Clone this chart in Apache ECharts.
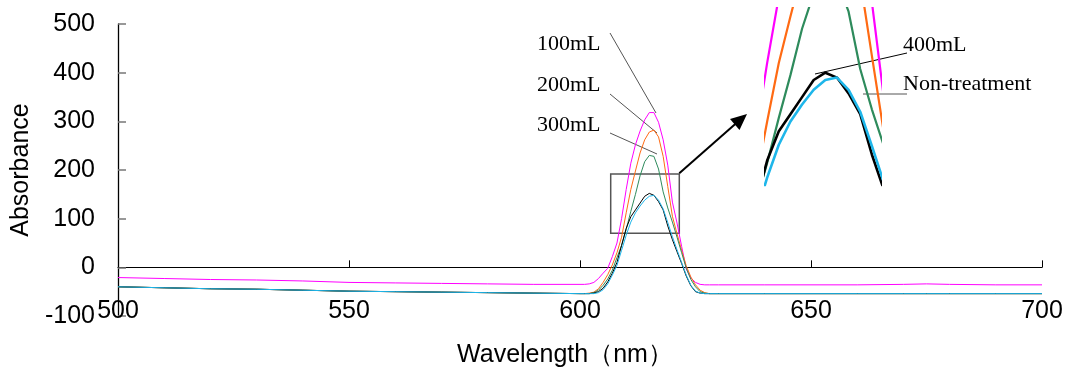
<!DOCTYPE html>
<html>
<head>
<meta charset="utf-8">
<script src="https://cdn.jsdelivr.net/npm/echarts@6/dist/echarts.min.js"></script>
<style>
html,body{margin:0;padding:0;background:#fff;}
#chart{width:1065px;height:368px;}
</style>
</head>
<body>
<div id="chart"></div>
<script>
const wavelengths = [500,510,520,530,540,550,560,570,580,590,
  600,601,602,603,604,605,606,607,608,609,610,611,612,613,614,615,616,617,618,619,620,621,622,623,624,625,626,627,628,
  630,640,650,660,670,675,680,690,700];

const s100 = [-21,-23,-25,-26,-28,-31,-32,-33,-34,-35,
  -35,-35,-34,-31,-23,-12,-2,22,50,100,160,214,252,280,303,318,318,298,262,210,134,91,43,-3,-22,-31,-35,-36,-36,
  -36,-36,-36,-36,-35,-34,-35,-36,-36];

const s200 = [-40,-42,-44,-45,-47,-49,-50,-51,-52,-53,
  -54,-54,-53,-51,-44,-31,-15,5,30,62,112,160,198,235,262,278,282,268,228,166,105,69,35,3,-20,-36,-47,-52,-54,
  -54,-54,-54,-54,-54,-54,-54,-54,-54];

const s300 = [-40,-42,-44,-45,-47,-49,-50,-51,-52,-53,
  -54,-54,-54,-52,-47,-37,-24,-6,20,45,78,115,150,188,217,230,228,202,155,122,93,62,30,-2,-25,-40,-50,-53,-54,
  -54,-54,-54,-54,-54,-54,-54,-54,-54];

const s400 = [-40,-42,-44,-45,-47,-49,-50,-51,-52,-53,
  -54,-54,-54,-53,-50,-43,-30,-12,10,45,80,104,118,132,146,152,148,135,118,85,57,32,8,-18,-38,-50,-53,-54,-54,
  -54,-54,-54,-54,-54,-54,-54,-54,-54];

const sNon = [-40,-42,-44,-45,-47,-49,-50,-51,-52,-53,
  -54,-54,-54,-54,-52,-46,-34,-16,4,35,66,93,112,126,138,146,148,138,120,92,63,36,10,-16,-37,-49,-53,-54,-54,
  -54,-54,-54,-54,-54,-54,-54,-54,-54];

const seriesNames = ['100mL','200mL','300mL','400mL','Non-treatment'];
const seriesValues = [s100, s200, s300, s400, sNon];
const seriesColors = ['#FF00FF','#FF6A13','#2E8B5C','#000000','#1EB6EA'];

const yTicks = {min:-100, max:500, interval:100};
const xTicks = {min:500, max:700, interval:50};
const zoomX = {min:609.9, max:619.7};
const zoomY = {min:60, max:205};

function pairs(vals){ return wavelengths.map((w,i)=>[w, vals[i]]); }

const series = [];
seriesValues.forEach((vals, i) => {
  series.push({
    name: seriesNames[i], type:'line', xAxisIndex:0, yAxisIndex:0,
    data: pairs(vals), showSymbol:false, symbol:'none', smooth:false,
    lineStyle:{color:seriesColors[i], width:1}, itemStyle:{color:seriesColors[i]},
    animation:false, z:2+i
  });
  series.push({
    name: seriesNames[i] + ' (zoom)', type:'line', xAxisIndex:2, yAxisIndex:1,
    data: pairs(vals), showSymbol:false, symbol:'none', smooth:false, clip:true,
    lineStyle:{color:seriesColors[i], width:(i>=3?2.6:2.2)}, itemStyle:{color:seriesColors[i]},
    animation:false, z:2+i
  });
});

const serif = '22px "Liberation Serif", "Times New Roman", serif';
const gray = '#555';
const sans = '"Liberation Sans", Arial, sans-serif';

const chart = echarts.init(document.getElementById('chart'), null, {renderer:'canvas'});
chart.setOption({
  backgroundColor:'#fff',
  animation:false,
  grid:[
    {left:118, right:23, top:24, bottom:52, containLabel:false, outerBoundsMode:'none'},
    {left:766, top:8, width:114, height:177, containLabel:false, outerBoundsMode:'none'}
  ],
  xAxis:[
    {gridIndex:0, type:'value', min:xTicks.min, max:xTicks.max, interval:xTicks.interval, position:'bottom',
     axisLine:{show:false, onZero:false}, axisTick:{show:false}, splitLine:{show:false},
     axisLabel:{fontSize:25, color:'#000', fontFamily:sans, margin:-5, verticalAlign:'middle'},
     name:'Wavelength（nm）', nameLocation:'middle', nameGap:27,
     nameTextStyle:{fontSize:25, color:'#000', fontFamily:sans, padding:[0,30,0,0]}},
    {gridIndex:0, type:'value', min:xTicks.min, max:xTicks.max, interval:xTicks.interval, position:'top',
     axisLine:{show:true, onZero:true, lineStyle:{color:'#000', width:1.2}},
     axisTick:{show:true, inside:false, length:7, lineStyle:{color:'#000', width:1}},
     axisLabel:{show:false}, splitLine:{show:false}},
    {gridIndex:1, type:'value', min:zoomX.min, max:zoomX.max, show:false}
  ],
  yAxis:[
    {gridIndex:0, type:'value', min:yTicks.min, max:yTicks.max, interval:yTicks.interval,
     axisLine:{show:true, onZero:false, lineStyle:{color:'#000', width:1.3}},
     axisTick:{show:true, inside:true, length:8, lineStyle:{color:'#777', width:1.5}},
     axisLabel:{fontSize:25, color:'#000', fontFamily:sans, margin:23},
     splitLine:{show:false},
     name:'Absorbance', nameLocation:'middle', nameGap:84, nameRotate:90,
     nameTextStyle:{fontSize:25, color:'#000', fontFamily:sans}},
    {gridIndex:1, type:'value', min:zoomY.min, max:zoomY.max, show:false}
  ],
  series: series,
  graphic:[
    {type:'text', x:537, y:44, style:{text:'100mL', font:serif, fill:'#000', verticalAlign:'middle'}},
    {type:'text', x:537, y:85, style:{text:'200mL', font:serif, fill:'#000', verticalAlign:'middle'}},
    {type:'text', x:537, y:125, style:{text:'300mL', font:serif, fill:'#000', verticalAlign:'middle'}},
    {type:'line', shape:{x1:610, y1:33, x2:656, y2:113}, style:{stroke:gray, lineWidth:1}},
    {type:'line', shape:{x1:610, y1:94, x2:657, y2:133}, style:{stroke:gray, lineWidth:1}},
    {type:'line', shape:{x1:610, y1:133, x2:657, y2:154}, style:{stroke:gray, lineWidth:1}},
    {type:'rect', shape:{x:610.7, y:174, width:68.6, height:59.3}, style:{fill:'rgba(0,0,0,0)', stroke:gray, lineWidth:1.5}},
    {type:'line', shape:{x1:679.3, y1:173.3, x2:737, y2:122.5}, style:{stroke:'#000', lineWidth:2}},
    {type:'polygon', shape:{points:[[747,114],[739.5,130],[730,119]]}, style:{fill:'#000'}},
    {type:'text', x:903, y:45, style:{text:'400mL', font:serif, fill:'#000', verticalAlign:'middle'}},
    {type:'text', x:903, y:84, style:{text:'Non-treatment', font:serif, fill:'#000', verticalAlign:'middle'}},
    {type:'line', shape:{x1:815, y1:74, x2:907, y2:53}, style:{stroke:'#000', lineWidth:1}},
    {type:'line', shape:{x1:863, y1:94, x2:907, y2:94}, style:{stroke:gray, lineWidth:1}}
  ]
});
</script>
</body>
</html>
